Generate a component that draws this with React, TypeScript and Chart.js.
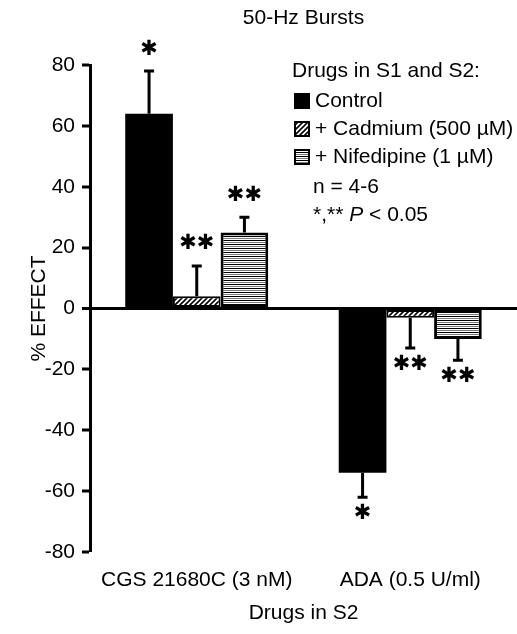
import React, { useEffect, useRef } from "react";
import { Chart, registerables } from "chart.js";

Chart.register(...registerables);

const categories = ["CGS 21680C (3 nM)", "ADA (0.5 U/ml)"];
const seriesNames = ["Control", "+ Cadmium (500 \u00B5M)", "+ Nifedipine (1 \u00B5M)"];
const controlValues = [64, -54];
const controlErrors = [14, 8];
const cadmiumValues = [4, -3];
const cadmiumErrors = [10, 10];
const nifedipineValues = [25, -10];
const nifedipineErrors = [5, 7];
const controlSig = ["*", "*"];
const cadmiumSig = ["**", "**"];
const nifedipineSig = ["**", "**"];
const yTicks = [80, 60, 40, 20, 0, -20, -40, -60, -80];

const FONT = "'Liberation Sans', Arial, sans-serif";
const FS = 21;

function makeHatch(): CanvasPattern | string {
  const c = document.createElement("canvas");
  c.width = 5;
  c.height = 5;
  const g = c.getContext("2d");
  if (!g) return "#888";
  g.fillStyle = "#fff";
  g.fillRect(0, 0, 5, 5);
  g.strokeStyle = "#000";
  g.lineWidth = 1.6;
  g.beginPath();
  g.moveTo(-1, 6);
  g.lineTo(6, -1);
  g.moveTo(-1, 1);
  g.lineTo(1, -1);
  g.moveTo(4, 6);
  g.lineTo(6, 4);
  g.stroke();
  return g.createPattern(c, "repeat") || "#888";
}

function makeStripes(): CanvasPattern | string {
  const c = document.createElement("canvas");
  c.width = 4;
  c.height = 4;
  const g = c.getContext("2d");
  if (!g) return "#888";
  g.fillStyle = "#fff";
  g.fillRect(0, 0, 4, 4);
  g.fillStyle = "#000";
  g.fillRect(0, 0, 4, 1);
  g.fillStyle = "#7a7a7a";
  g.fillRect(0, 2, 4, 1);
  return g.createPattern(c, "repeat") || "#888";
}

export default function App() {
  const ref = useRef<HTMLCanvasElement | null>(null);

  useEffect(() => {
    const canvas = ref.current;
    if (!canvas) return;
    const hatch = makeHatch();
    const stripes = makeStripes();
    const errs = [controlErrors, cadmiumErrors, nifedipineErrors];
    const sigs = [controlSig, cadmiumSig, nifedipineSig];
    const fills: any[] = ["#000", hatch, stripes];

    const overlay = {
      id: "overlay",
      afterDatasetsDraw(chart: any) {
        const ctx = chart.ctx as CanvasRenderingContext2D;
        const y = chart.scales.y;
        ctx.save();
        for (let d = 0; d < 3; d++) {
          const meta = chart.getDatasetMeta(d);
          const vals = chart.data.datasets[d].data as number[];
          meta.data.forEach((bar: any, i: number) => {
            const v = vals[i];
            const e = errs[d][i];
            const end = v >= 0 ? v + e : v - e;
            const py0 = y.getPixelForValue(v);
            const py1 = y.getPixelForValue(end);
            ctx.strokeStyle = "#000";
            ctx.lineWidth = 3;
            ctx.beginPath();
            ctx.moveTo(bar.x, py0);
            ctx.lineTo(bar.x, py1);
            ctx.moveTo(bar.x - 5, py1);
            ctx.lineTo(bar.x + 5, py1);
            ctx.stroke();
            const s = sigs[d][i];
            const txt = s === "**" ? "\u2731\u2731" : "\u2731";
            ctx.fillStyle = "#000";
            ctx.font = `21px 'DejaVu Sans', sans-serif`;
            ctx.textAlign = "center";
            ctx.textBaseline = "middle";
            const cy = v >= 0 ? py1 - 22 : py1 + 16;
            ctx.fillText(txt, bar.x, cy);
          });
        }
        ctx.font = `${FS}px ${FONT}`;
        ctx.fillStyle = "#000";
        ctx.textAlign = "left";
        ctx.textBaseline = "middle";
        ctx.fillText("Drugs in S1 and S2:", 292, 71);
        const rowY = [101, 129, 157];
        for (let k = 0; k < 3; k++) {
          const sx = 294;
          const sy = rowY[k] - 8;
          ctx.fillStyle = fills[k];
          ctx.fillRect(sx, sy, 16, 16);
          if (k > 0) {
            ctx.strokeStyle = "#000";
            ctx.lineWidth = 2;
            ctx.strokeRect(sx + 1, sy + 1, 14, 14);
          }
          ctx.fillStyle = "#000";
          ctx.fillText(seriesNames[k], 315, rowY[k]);
        }
        ctx.fillText("n = 4-6", 313, 187);
        let x = 313;
        const a = "*,** ";
        ctx.fillText(a, x, 215);
        x += ctx.measureText(a).width;
        ctx.font = `italic ${FS}px ${FONT}`;
        ctx.fillText("P", x, 215);
        x += ctx.measureText("P").width;
        ctx.font = `${FS}px ${FONT}`;
        ctx.fillText(" < 0.05", x, 215);
        ctx.restore();
      },
    };

    const chart = new Chart(canvas, {
      type: "bar",
      data: {
        labels: categories,
        datasets: [
          {
            label: seriesNames[0],
            data: controlValues,
            backgroundColor: "#000",
            borderColor: "#000",
            borderWidth: 0,
          },
          {
            label: seriesNames[1],
            data: cadmiumValues,
            backgroundColor: hatch as any,
            borderColor: "#000",
            borderWidth: 2,
          },
          {
            label: seriesNames[2],
            data: nifedipineValues,
            backgroundColor: stripes as any,
            borderColor: "#000",
            borderWidth: 3,
          },
        ],
      },
      options: {
        responsive: false,
        animation: false,
        datasets: {
          bar: { categoryPercentage: 0.67, barPercentage: 1.0, borderSkipped: false } as any,
        },
        layout: { padding: { left: 0, right: 0, top: 0, bottom: 0 } },
        plugins: {
          legend: { display: false },
          tooltip: { enabled: false },
          title: {
            display: true,
            text: "50-Hz Bursts",
            fullSize: false,
            color: "#000",
            font: { family: FONT, size: FS, weight: "normal" },
            padding: { top: 5.5, bottom: 34.3 },
          } as any,
        },
        scales: {
          x: {
            grid: { display: false },
            border: { display: false },
            ticks: { color: "#000", font: { family: FONT, size: FS }, padding: 8, maxRotation: 0 },
            title: {
              display: true,
              text: "Drugs in S2",
              color: "#000",
              font: { family: FONT, size: FS },
              padding: { top: 0, bottom: 8 },
            },
            afterFit(scale: any) {
              scale.height = 82;
            },
          },
          y: {
            min: -80,
            max: 80,
            afterBuildTicks(scale: any) {
              scale.ticks = yTicks.map((v) => ({ value: v }));
            },
            grid: {
              drawOnChartArea: true,
              color: (c: any) => (c.tick && c.tick.value === 0 ? "#000" : "rgba(0,0,0,0)"),
              lineWidth: (c: any) => (c.tick && c.tick.value === 0 ? 3 : 0),
              tickColor: "#000",
              tickWidth: 3,
              tickLength: 8,
            } as any,
            border: { display: true, color: "#000", width: 3 },
            ticks: { color: "#000", font: { family: FONT, size: FS }, padding: 7 },
            title: {
              display: true,
              text: "% EFFECT",
              color: "#000",
              font: { family: FONT, size: FS },
              padding: { top: 27, bottom: 0 },
            },
            afterFit(scale: any) {
              scale.width = 90;
            },
          },
        },
      },
      plugins: [overlay],
    });
    return () => chart.destroy();
  }, []);

  return (
    <div style={{ position: "absolute", left: 0, top: 0, width: 517, height: 634, background: "#fff" }}>
      <canvas ref={ref} width={517} height={634} style={{ display: "block" }} />
    </div>
  );
}
